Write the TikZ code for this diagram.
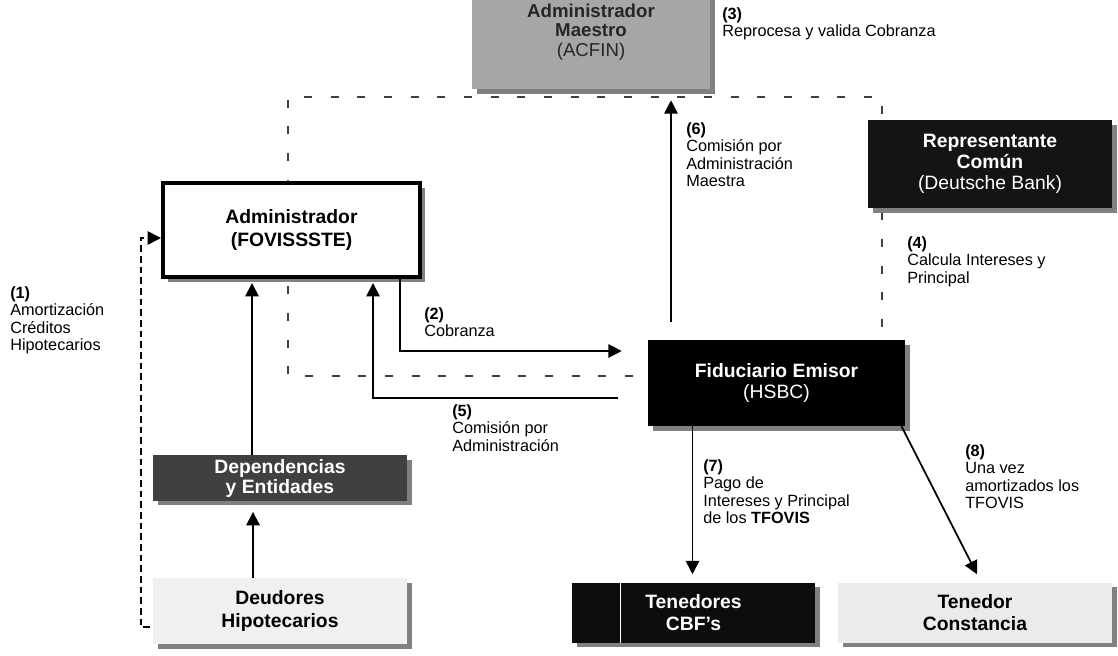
\documentclass[tikz,border=0pt]{standalone}
\usepackage{fontspec}
\setmainfont{Liberation Sans}
\usetikzlibrary{calc}
\usetikzlibrary{arrows.meta}
\usetikzlibrary{shadows}

\begin{document}
\begin{tikzpicture}[x=0.75pt,y=-0.75pt,
  box/.style={inner sep=0, align=center, font=\fontsize{14.5}{16}\selectfont\bfseries,
    drop shadow={shadow xshift=3.5pt,shadow yshift=-3.5pt,fill=black!50,opacity=1}},
  lbl/.style={anchor=north west, inner sep=0, align=left, font=\fontsize{12.2}{13.2}\selectfont},
  arr/.style={line width=1.3pt, -{Triangle[length=10pt,width=10pt]}},
  limite/.style={line width=1.6pt, black!75, dash pattern=on 6pt off 14pt},
  punteada/.style={line width=1.3pt, dash pattern=on 5pt off 3pt}]
\useasboundingbox (0,0) rectangle (1118,656);
\coordinate (bA) at (633,376);
\coordinate (bB) at (288,376);
\coordinate (bC) at (288,97);
\coordinate (bD) at (882,97);
\coordinate (bE) at (882,332);
\draw[limite] (bA) -- (bB) -- (bC) -- (bD) -- (bE);

\node[box, fill=black!35, text=black!85, minimum width=178.5pt, minimum height=85.5pt, font=\fontsize{14}{14.8}\selectfont\bfseries] (maestro) at (591,32) {Administrador\\Maestro\\{\mdseries (ACFIN)}};
\node[box, fill=black!92, text=white, minimum width=183pt, minimum height=66pt] (repre) at (990,164) {Representante\\Com\'un\\{\mdseries (Deutsche Bank)}};
\node[box, fill=white, draw=black, line width=3pt, minimum width=192.75pt, minimum height=70.5pt, font=\fontsize{14.5}{17}\selectfont\bfseries] (admin) at (291.5,230) {Administrador\\(FOVISSSTE)};
\node[box, fill=black, text=white, minimum width=192.75pt, minimum height=64.5pt] (fidu) at (776.5,383) {Fiduciario Emisor\\{\mdseries (HSBC)}};
\node[box, fill=black!75, text=white, minimum width=190.5pt, minimum height=34pt, font=\fontsize{14.5}{15}\selectfont\bfseries] (depen) at (280,478) {Dependencias\\y Entidades};
\node[box, fill=black!6, minimum width=190.5pt, minimum height=49.5pt, font=\fontsize{14.5}{17}\selectfont\bfseries] (deud) at (280,611) {Deudores\\Hipotecarios};
\node[box, fill=black!95, text=white, minimum width=182.25pt, minimum height=45pt, font=\fontsize{14.5}{17}\selectfont\bfseries] (tened) at (693.5,612.5) {Tenedores\\CBF’s};
\node[box, fill=black!8, minimum width=205.5pt, minimum height=45pt, font=\fontsize{14.5}{17}\selectfont\bfseries] (const) at (975,612.5) {Tenedor\\Constancia};
\draw[white, line width=0.6pt] ($(tened.north west)+(49,0)$) -- ($(tened.south west)+(49,0)$);

\draw[arr, punteada] ($(deud.west)+(-3,16)$) -- ($(deud.west)+(-12,16)$) |- ($(admin.west)+(0,8)$);
\draw[arr] ($(deud.north)+(-27,0)$) -- ($(depen.south)+(-27,11)$);
\draw[arr] ($(depen.north)+(-28,0)$) -- ($(admin.south)+(-39.5,4)$);
\draw[arr] ($(admin.south)+(108.5,0)$) |- ($(fidu.west)+(-26,-32)$);
\draw[arr] ($(fidu.west)+(-30,15)$) -| ($(admin.south)+(81.5,4)$);
\draw[arr] ($(fidu.north)+(-105.5,-18)$) -- ($(maestro.south)+(80,11)$);
\draw[arr] ($(fidu.south)+(-84,0)$) -- ($(tened.north)+(-1,-8)$);
\draw[arr] ($(fidu.south)+(125,0)$) -- ($(const.north)+(2,-8)$);

\node[lbl] (l3) at (722,7) {\textbf{(3)}\\Reprocesa y valida Cobranza};
\node[lbl] (l6) at (686,122) {\textbf{(6)}\\Comisi\'on por\\Administraci\'on\\Maestra};
\node[lbl] (l4) at (907,236) {\textbf{(4)}\\Calcula Intereses y\\Principal};
\node[lbl] (l1) at (10,286) {\textbf{(1)}\\Amortizaci\'on\\Cr\'editos\\Hipotecarios};
\node[lbl] (l2) at (424,307) {\textbf{(2)}\\Cobranza};
\node[lbl] (l5) at (452,404) {\textbf{(5)}\\Comisi\'on por\\Administraci\'on};
\node[lbl] (l7) at (703,459) {\textbf{(7)}\\Pago de\\Intereses y Principal\\de los \textbf{TFOVIS}};
\node[lbl] (l8) at (965,444) {\textbf{(8)}\\Una vez\\amortizados los\\TFOVIS};
\end{tikzpicture}
\end{document}
